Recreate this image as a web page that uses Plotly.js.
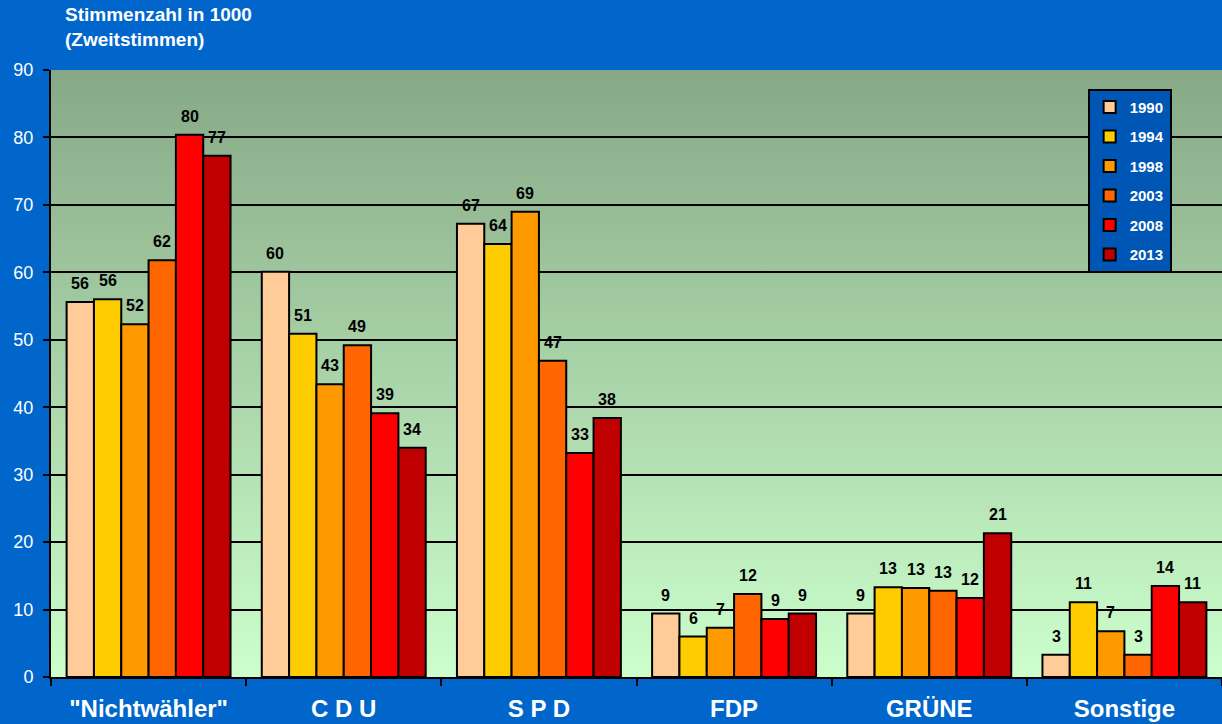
<!DOCTYPE html>
<html>
<head>
<meta charset="utf-8">
<script src="https://cdn.plot.ly/plotly-3.0.1.min.js"></script>
<style>
  html, body { margin: 0; padding: 0; background: #0066cc; }
  #chart { width: 1222px; height: 724px; }
</style>
</head>
<body>
<div id="chart"></div>
<script>
    // Parteien und Wahljahre
    var parties = ['"Nichtwähler"', 'C D U', 'S P D', 'FDP', 'GRÜNE', 'Sonstige'];
    var years = ['1990', '1994', '1998', '2003', '2008', '2013'];
    var colors = ['#ffcc99', '#ffcc00', '#ff9900', '#ff6600', '#ff0000', '#c00000'];

    // Stimmen in 1000, je Wahljahr
    var v1990 = [55.6, 60.1, 67.2, 9.4, 9.4, 3.3];
    var v1994 = [56.0, 50.9, 64.2, 6.0, 13.3, 11.1];
    var v1998 = [52.3, 43.4, 69.0, 7.3, 13.2, 6.8];
    var v2003 = [61.8, 49.2, 46.9, 12.3, 12.8, 3.3];
    var v2008 = [80.4, 39.1, 33.2, 8.6, 11.7, 13.5];
    var v2013 = [77.3, 34.0, 38.4, 9.4, 21.3, 11.1];
    var values = [v1990, v1994, v1998, v2003, v2008, v2013];

    var font = 'Arial, "Liberation Sans", sans-serif';

    var W = 1222, H = 724;
    var margin = { t: 70, r: 0, b: 47, l: 51 };
    var bargap = 0.16;

    var traces = years.map(function(year, i) {
        return {
            x: parties,
            y: values[i],
            name: year,
            type: 'bar',
            legendgroup: year,
            marker: {
                color: colors[i],
                line: { color: '#000000', width: 2 }
            },
            hoverinfo: 'x+y+name'
        };
    });

    // Wertbeschriftungen über den Balken
    var groupPx = (W - margin.l - margin.r) / parties.length;
    var barPx = groupPx * (1 - bargap) / years.length;
    var annotations = [];
    years.forEach(function(year, i) {
        parties.forEach(function(p, j) {
            annotations.push({
                x: p, y: values[i][j],
                xref: 'x', yref: 'y',
                xshift: (i - (years.length - 1) / 2) * barPx,
                yshift: 8,
                yanchor: 'bottom',
                text: String(Math.round(values[i][j])),
                showarrow: false,
                font: { family: font, size: 16, color: '#000000', weight: 'bold' }
            });
        });
    });

    annotations.push({
        text: 'Stimmenzahl in 1000<br>(Zweitstimmen)',
        xref: 'paper', yref: 'paper',
        x: 0.01, y: 1.0, yshift: 68,
        xanchor: 'left', yanchor: 'top',
        align: 'left',
        showarrow: false,
        font: { family: font, size: 19, color: '#ffffff', weight: 'bold' }
    });

    // Verlauf im Plotbereich (dunkel oben, hellgrün unten)
    var bgSvg = '<svg xmlns="http://www.w3.org/2000/svg" width="100" height="100" preserveAspectRatio="none">' +
        '<defs><linearGradient id="g" x1="0" y1="0" x2="0" y2="1">' +
        '<stop offset="0" stop-color="#86a886"/>' +
        '<stop offset="1" stop-color="#ccffcc"/>' +
        '</linearGradient></defs><rect width="100" height="100" fill="url(#g)"/></svg>';

    var layout = {
        width: W,
        height: H,
        margin: margin,
        paper_bgcolor: '#0066cc',
        plot_bgcolor: 'rgba(0,0,0,0)',
        barmode: 'group',
        bargap: bargap,
        bargroupgap: 0,
        font: { family: font, color: '#ffffff' },
        images: [{
            source: 'data:image/svg+xml;charset=utf-8,' + encodeURIComponent(bgSvg),
            xref: 'paper', yref: 'paper',
            x: 0, y: 1, sizex: 1, sizey: 1,
            sizing: 'stretch',
            xanchor: 'left', yanchor: 'top',
            layer: 'below'
        }],
        xaxis: {
            tickson: 'boundaries',
            ticks: 'outside',
            ticklen: 7,
            tickwidth: 2,
            tickcolor: '#000000',
            showline: true,
            linecolor: '#000000',
            linewidth: 2,
            showgrid: false,
            ticklabelstandoff: 9,
            tickfont: { family: font, size: 24, color: '#ffffff', weight: 'bold' },
            fixedrange: true
        },
        yaxis: {
            range: [0, 90],
            dtick: 10,
            ticks: 'outside',
            ticklen: 6,
            tickwidth: 2,
            tickcolor: '#000000',
            showline: true,
            linecolor: '#000000',
            linewidth: 2,
            showgrid: true,
            gridcolor: '#000000',
            gridwidth: 2,
            zeroline: false,
            ticklabelstandoff: 6,
            tickfont: { family: font, size: 18, color: '#ffffff' },
            fixedrange: true
        },
        legend: {
            x: 0.957, y: 0.969,
            xanchor: 'right', yanchor: 'top',
            bgcolor: '#0056b4',
            bordercolor: '#000000',
            borderwidth: 2,
            tracegroupgap: 7,
            itemwidth: 30,
            font: { family: font, size: 15, color: '#ffffff', weight: 'bold' }
        },
        annotations: annotations
    };

    const config = {
        responsive: false,
        displayModeBar: false
    };

    Plotly.newPlot('chart', traces, layout, config);
</script>
</body>
</html>
